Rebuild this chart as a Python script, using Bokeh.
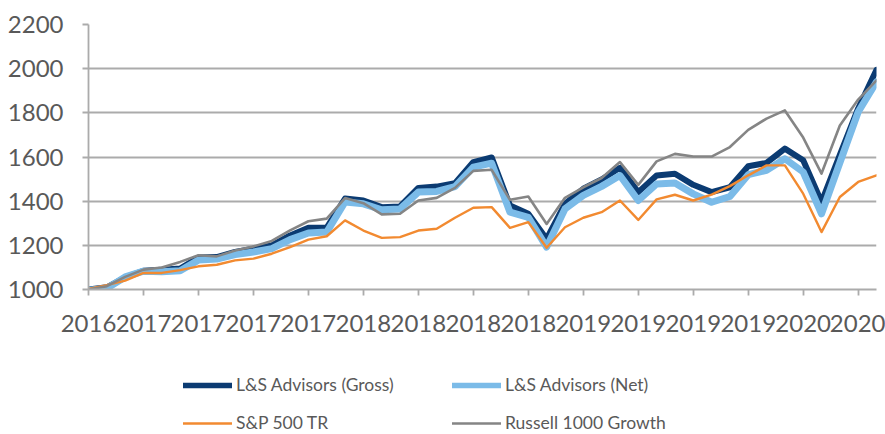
from bokeh.plotting import figure
from bokeh.models import FixedTicker, Legend, LegendItem, Range1d
from bokeh.layouts import column
from bokeh.embed import file_html
from bokeh.resources import INLINE

x_labels = ["2016", "2017", "2017", "2017", "2017", "2018", "2018", "2018",
            "2018", "2019", "2019", "2019", "2019", "2020", "2020"]

gross = [1000, 1010, 1055, 1085, 1090, 1095, 1145, 1147, 1170, 1185, 1200,
         1245, 1280, 1280, 1412, 1403, 1373, 1376, 1460, 1466, 1481, 1577,
         1598, 1380, 1343, 1229, 1388, 1456, 1498, 1551, 1441, 1516, 1524,
         1474, 1441, 1463, 1558, 1573, 1638, 1585, 1396, 1610, 1820, 1995]

net = [997, 1005, 1057, 1083, 1080, 1085, 1133, 1138, 1158, 1170, 1185,
       1226, 1256, 1260, 1396, 1388, 1361, 1365, 1441, 1444, 1466, 1554,
       1572, 1350, 1327, 1192, 1365, 1426, 1467, 1516, 1403, 1478, 1482,
       1433, 1395, 1421, 1520, 1540, 1592, 1532, 1343, 1574, 1804, 1940]

sp500 = [1003, 1020, 1040, 1075, 1075, 1088, 1105, 1112, 1132, 1140, 1162,
         1192, 1226, 1241, 1313, 1267, 1234, 1237, 1267, 1275, 1325, 1370,
         1373, 1279, 1305, 1189, 1282, 1325, 1350, 1403, 1315, 1408, 1429,
         1403, 1430, 1468, 1517, 1562, 1562, 1434, 1260, 1419, 1487, 1517]

russell = [1000, 1015, 1057, 1090, 1100, 1125, 1155, 1150, 1177, 1195, 1220,
           1268, 1309, 1321, 1414, 1391, 1340, 1343, 1403, 1415, 1460, 1537,
           1542, 1406, 1421, 1297, 1415, 1463, 1505, 1577, 1474, 1580, 1614,
           1602, 1602, 1645, 1723, 1774, 1811, 1688, 1525, 1743, 1860, 1947]

series_names = ["L&S Advisors (Gross)", "L&S Advisors (Net)", "S&P 500 TR",
                "Russell 1000 Growth"]
series_colors = ["#0b3b72", "#7bbbe8", "#f28a30", "#858585"]
y_ticks = [1000, 1200, 1400, 1600, 1800, 2000, 2200]

idx = list(range(len(gross)))
tick_pos = list(range(0, len(gross), 3))

FONT = "Lato"
TXT = "#595959"
GRID = "#ababab"
W = 885
MAIN_H = 345
LEG_H = 434 - MAIN_H
LEFT = 88

p = figure(width=W, height=MAIN_H, output_backend="svg", toolbar_location=None,
           x_range=Range1d(0, len(gross) - 1), y_range=Range1d(1000, 2200),
           min_border_left=LEFT, min_border_right=9, min_border_top=24,
           min_border_bottom=MAIN_H - 289)
p.outline_line_color = None
p.background_fill_color = "white"
p.border_fill_color = "white"

widths = [6, 7, 2.4, 2.6]
datas = [gross, net, sp500, russell]
for d, c, w in zip(datas, series_colors, widths):
    p.line(idx, d, line_color=c, line_width=w, line_join="round", line_cap="round")

p.xgrid.visible = False
p.ygrid.ticker = FixedTicker(ticks=y_ticks)
p.ygrid.grid_line_color = GRID
p.ygrid.grid_line_width = 1.8

p.xaxis.ticker = FixedTicker(ticks=tick_pos)
p.xaxis.major_label_overrides = {t: lab for t, lab in zip(tick_pos, x_labels)}
p.yaxis.ticker = FixedTicker(ticks=y_ticks)

for ax in (p.xaxis[0], p.yaxis[0]):
    ax.axis_line_color = GRID
    ax.axis_line_width = 1.8
    ax.major_tick_line_color = GRID
    ax.major_tick_line_width = 1.8
    ax.major_tick_out = 6
    ax.major_tick_in = 0
    ax.minor_tick_line_color = None
    ax.major_label_text_font = FONT
    ax.major_label_text_font_size = "24px"
    ax.major_label_text_color = TXT

p.yaxis.major_label_standoff = 19
p.xaxis.major_label_standoff = 19

# legend figure below the chart
q = figure(width=W, height=LEG_H, output_backend="svg", toolbar_location=None,
           x_range=Range1d(0, 1), y_range=Range1d(0, 1),
           x_axis_location=None, y_axis_location=None,
           min_border_left=LEFT, min_border_right=9, min_border_top=0,
           min_border_bottom=0)
q.outline_line_color = None
q.xgrid.visible = False
q.ygrid.visible = False
q.background_fill_color = "white"
q.border_fill_color = "white"

leg_r = []
for c, w in zip(series_colors, widths):
    # swatch-only renderers, drawn outside the visible range
    leg_r.append(q.line(x=[5, 6], y=[5, 6], line_color=c, line_width=min(w, 5.5),
                        line_cap="round"))

def make_legend(items, sx):
    return Legend(items=items, location=(sx - LEFT, 1), orientation="vertical",
                  glyph_width=49, glyph_height=20, label_height=20,
                  label_standoff=4, spacing=17, padding=0, margin=0,
                  border_line_color=None, background_fill_alpha=0,
                  label_text_font=FONT, label_text_font_size="17.5px",
                  label_text_color=TXT)

leg1 = make_legend([LegendItem(label=series_names[0], renderers=[leg_r[0]]),
                    LegendItem(label=series_names[2], renderers=[leg_r[2]])], 183)
leg2 = make_legend([LegendItem(label=series_names[1], renderers=[leg_r[1]]),
                    LegendItem(label=series_names[3], renderers=[leg_r[3]])], 452)
q.add_layout(leg1)
q.add_layout(leg2)

layout = column(p, q, spacing=0)
open("out.html", "w").write(file_html(layout, INLINE))
